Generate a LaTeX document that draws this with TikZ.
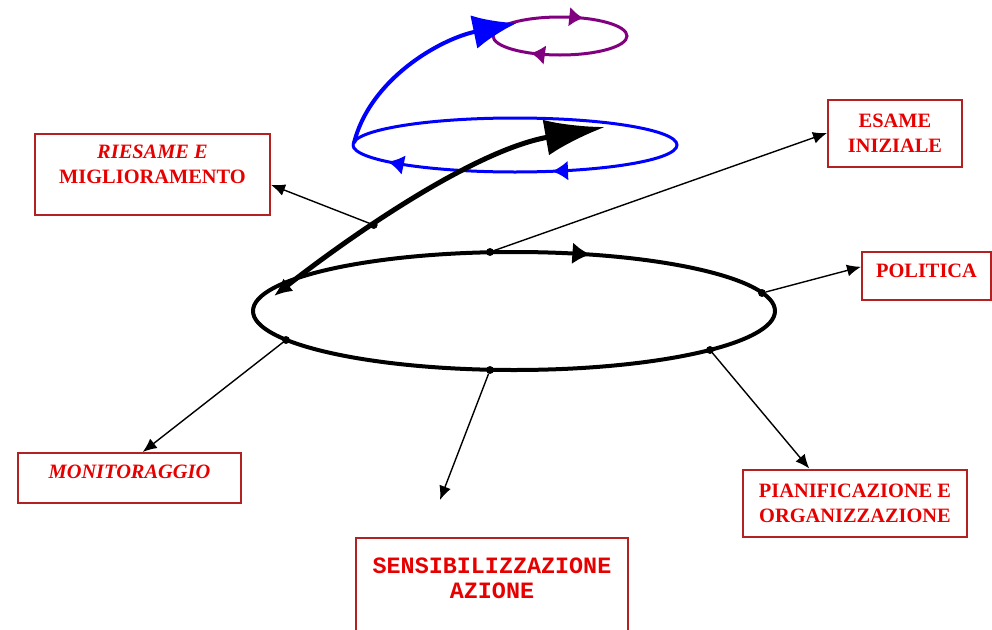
\documentclass[tikz,border=0pt]{standalone}
\usepackage{fontspec}
\setmainfont{Liberation Serif}
\newfontfamily\monofont{Liberation Mono}
\usetikzlibrary{arrows.meta,decorations.markings}
\definecolor{textred}{RGB}{230,0,0}
\definecolor{boxred}{RGB}{178,34,34}
\definecolor{loopblue}{RGB}{0,0,255}
\definecolor{looppurple}{RGB}{128,0,128}
\tikzstyle{spot}=[circle, fill=black, draw, line width=0.4pt, inner sep=0pt, minimum size=3.5pt]
\tikzstyle{box}=[draw=boxred, line width=1pt, text=textred, align=center, font=\fontsize{10.2}{12.5}\selectfont\bfseries]
\newcommand{\spot}{\node[spot]}

\begin{document}
\begin{tikzpicture}[x=0.5pt, y=0.5pt, every edge/.style={ draw, line width=0.7pt, -{Latex[length=7pt,width=6pt]} } ]
\useasboundingbox (0,0) rectangle (992,629);
\clip (0,0) rectangle (992,629);
% loops
\draw[looppurple, line width=1.5pt, postaction={decorate}, decoration={markings,
  mark=at position 0.33 with {\arrow{Latex[length=7pt,width=10pt]}},
  mark=at position 0.85 with {\arrow{Latex[length=7pt,width=10pt]}}}]
  (493,593) arc[start angle=180, end angle=-180, x radius=67, y radius=19];
\draw[loopblue, line width=1.5pt, postaction={decorate}, decoration={markings,
  mark=at position 0.695 with {\arrow{Latex[length=8pt,width=10pt]}},
  mark=at position 0.94 with {\arrow{Latex[length=8pt,width=10pt]}}}]
  (353,484) arc[start angle=180, end angle=-180, x radius=162, y radius=27];
\draw[loopblue, line width=2pt, -{Latex[length=22pt,width=17pt]}] (354,486) .. controls (370,550) and (440,590) .. (517,606);
\draw[line width=2pt, postaction={decorate}, decoration={markings,
  mark=at position 0.319 with {\arrow{Latex[length=9pt,width=11pt]}}}]
  (253,318) arc[start angle=180, end angle=-180, x radius=261, y radius=59];
\draw[line width=2.5pt, {Latex[length=9pt,width=8pt]}-{Latex[length=30pt,width=18pt]}] (274,333) .. controls (340,385) and (470,478) .. (605,502) node[spot, pos=0.38] (d1) {};
% points on the ring
\spot (d2) at (490,377) {};
\spot (d3) at (762,336) {};
\spot (d4) at (710,279) {};
\spot (d5) at (490,259) {};
\spot (d6) at (286,289) {};
% boxes
\node[box, text depth=10pt, minimum width=117.5pt, minimum height=40.5pt] (riesame) at (152.5,454.5) {{\itshape RIESAME E}\\MIGLIORAMENTO};
\node[box, minimum width=67pt, minimum height=33.5pt] (esame) at (895,496) {ESAME\\INIZIALE};
\node[box, text depth=5pt, minimum width=64.5pt, minimum height=24pt] (politica) at (926.5,353) {POLITICA};
\node[box, minimum width=112pt, minimum height=33.5pt] (pianif) at (855,126) {PIANIFICAZIONE E\\ORGANIZZAZIONE};
\node[box, font=\fontsize{11.7}{12.5}\selectfont\monofont\bfseries, anchor=north, inner ysep=10pt, text depth=60pt, minimum width=136pt] (sensib) at (492,92) {SENSIBILIZZAZIONE\\AZIONE};
\node[box, font=\fontsize{10.2}{12.5}\selectfont\bfseries\itshape, text depth=6pt, minimum width=111.5pt, minimum height=25pt] (monitor) at (129.5,151) {MONITORAGGIO};
\coordinate (sensibtip) at (440,129);
\path
(d1) edge (riesame.-5)
(d2) edge (esame.west)
(d3) edge (politica.172)
(d4) edge (pianif.143)
(d5) edge (sensibtip)
(d6) edge (monitor.63)
;
\end{tikzpicture}
\end{document}
